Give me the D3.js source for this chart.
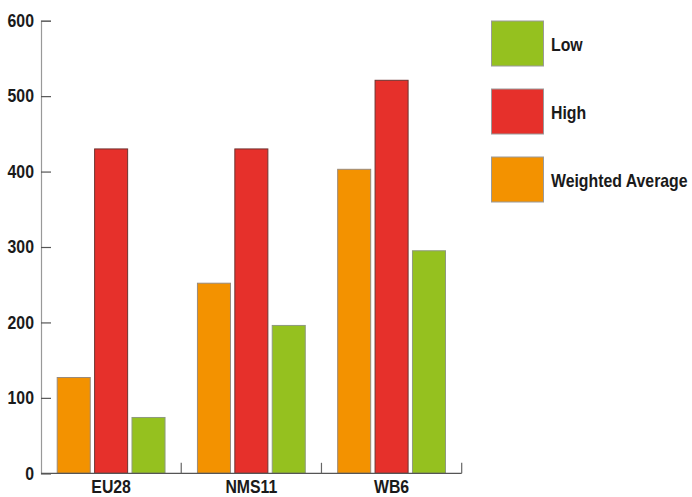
<!DOCTYPE html>
<html><head><meta charset="utf-8">
<script src="https://cdn.jsdelivr.net/npm/d3@7"></script>
<style>
html,body{margin:0;padding:0;background:#fff;}
svg text{font-family:"Liberation Sans",Arial,sans-serif;font-weight:bold;fill:#1a1a1a;}
</style></head>
<body>
<svg id="c" width="692" height="497"></svg>
<script>
const categories = ["EU28", "NMS11", "WB6"];
const seriesNames = ["Weighted Average", "High", "Low"];
const weightedAverage = [127, 252, 403];
const high = [430, 430, 521];
const low = [74, 196, 295];
const yTicks = [0, 100, 200, 300, 400, 500, 600];
const legendOrder = ["Low", "High", "Weighted Average"];

const colors = {"Weighted Average": "#F39200", "High": "#E6302B", "Low": "#95C11F"};
const strokes = {"Weighted Average": "#9a8a7a", "High": "#6e3330", "Low": "#8e9a7e"};
const valuesBySeries = {"Weighted Average": weightedAverage, "High": high, "Low": low};

const FS = 18, SX = 0.88;
const svg = d3.select("#c");
const x0 = 41, x1 = 461.7, yTop = 20.7, yBot = 473.3;

const x = d3.scaleBand().domain(categories).range([x0, x1]).padding(0);
const xi = d3.scaleBand().domain(seriesNames).range([0, x.bandwidth()]).paddingInner(0.09).paddingOuter(0.42);
const y = d3.scaleLinear().domain([0, 600]).range([yBot, yTop]);

function label(parent, px, py, txt, anchor) {
  return parent.append("g").attr("transform", `translate(${px},${py}) scale(${SX},1)`)
    .append("text").attr("x", 0).attr("y", 0).attr("text-anchor", anchor || "start")
    .attr("font-size", FS).text(txt);
}

// bars
const g = svg.append("g");
categories.forEach((c, ci) => {
  seriesNames.forEach(s => {
    const v = valuesBySeries[s][ci];
    g.append("rect")
      .attr("x", x(c) + xi(s) + 0.5)
      .attr("y", y(v))
      .attr("width", xi.bandwidth() - 1)
      .attr("height", yBot - y(v))
      .attr("fill", colors[s])
      .attr("stroke", strokes[s])
      .attr("stroke-width", 1);
  });
});

// y axis
const yAxis = d3.axisLeft(y).tickValues(yTicks).tickSize(-10).tickPadding(8).tickFormat(d3.format("d"));
const ya = svg.append("g").attr("transform", `translate(${x0},0)`).call(yAxis);
ya.select(".domain").attr("stroke", "#999").attr("stroke-width", 1.2);
ya.selectAll(".tick line").attr("stroke", "#555").attr("stroke-width", 1.2);
ya.selectAll(".tick text").attr("font-size", FS).attr("font-family", null).attr("fill", "#1a1a1a")
  .attr("transform", `scale(${SX},1)`);

// x axis
const xa = svg.append("g").attr("transform", `translate(0,${yBot})`);
xa.append("line").attr("x1", x0).attr("x2", x1).attr("y1", 0).attr("y2", 0).attr("stroke", "#555").attr("stroke-width", 1.2);
categories.forEach(c => {
  xa.append("line").attr("x1", x(c) + x.bandwidth()).attr("x2", x(c) + x.bandwidth())
    .attr("y1", 0).attr("y2", -10.5).attr("stroke", "#666").attr("stroke-width", 1.2);
  label(xa, x(c) + x.bandwidth() / 2, 19.3, c, "middle");
});

// legend
const lg = svg.append("g").attr("transform", "translate(491,21)");
legendOrder.forEach((s, i) => {
  const row = lg.append("g").attr("transform", `translate(0,${i * 68})`);
  row.append("rect").attr("x", 0.5).attr("y", 0).attr("width", 52).attr("height", 45)
    .attr("fill", colors[s]).attr("stroke", "#9a9a9a").attr("stroke-width", 1);
  label(row, 60, 29.5, s, "start");
});
</script>
</body></html>
